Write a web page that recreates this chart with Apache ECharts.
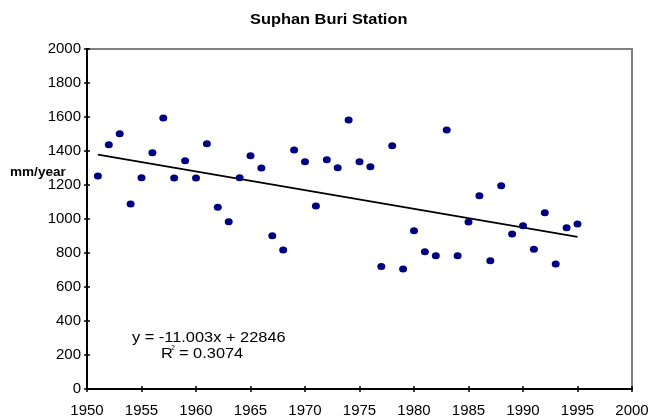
<!DOCTYPE html>
<html>
<head>
<meta charset="utf-8">
<script src="https://cdn.jsdelivr.net/npm/echarts@6/dist/echarts.min.js"></script>
<style>
html,body{margin:0;padding:0;background:#fff;}
#c{width:654px;height:420px;}
</style>
</head>
<body>
<div id="c"></div>
<script>
const years = [1951,1952,1953,1954,1955,1956,1957,1958,1959,1960,1961,1962,1963,1964,1965,1966,1967,1968,1969,1970,1971,1972,1973,1974,1975,1976,1977,1978,1979,1980,1981,1982,1983,1984,1985,1986,1987,1988,1989,1990,1991,1992,1993,1994,1995];
const rainfall = [1253,1437,1502,1088,1243,1390,1594,1241,1343,1241,1443,1069,984,1243,1372,1300,902,818,1406,1337,1076,1349,1302,1582,1337,1308,720,1431,706,931,808,784,1523,784,982,1137,755,1196,912,961,822,1037,735,949,970];
const trendSlope = -11.003;
const trendIntercept = 22846;
const trendYears = [1951, 1995];
const xTicks = {min:1950, max:2000, interval:5};
const yTicks = {min:0, max:2000, interval:200};
const titleText = 'Suphan Buri Station';
const yName = 'mm/year';
const eqText = 'y = -11.003x + 22846';
const r2Text = '0.3074';

const pts = years.map((y,i)=>[y, rainfall[i]]);
const trend = trendYears.map(x=>[x, trendSlope*x + trendIntercept]);
const font = '"Liberation Sans", Arial, sans-serif';
const SX = 1.17;

const chart = echarts.init(document.getElementById('c'), null, {renderer:'canvas'});
chart.setOption({
  animation:false,
  backgroundColor:'#fff',
  grid:{left:87, right:22, top:49, bottom:31, show:true, borderColor:'#808080', borderWidth:2, backgroundColor:'#fff'},
  xAxis:[{
    type:'value', min:xTicks.min, max:xTicks.max, interval:xTicks.interval,
    axisLine:{show:true, onZero:false, lineStyle:{color:'#000', width:2}},
    axisTick:{show:true, length:3, lineStyle:{color:'#000', width:1.5}},
    axisLabel:{color:'#000', fontFamily:font, fontSize:15, margin:14, formatter:v=>String(v)},
    splitLine:{show:false}
  },{
    type:'value', position:'bottom', min:xTicks.min, max:xTicks.max, interval:xTicks.interval,
    axisLine:{show:false}, axisTick:{show:true, inside:true, length:3, lineStyle:{color:'#000', width:1.5}},
    axisLabel:{show:false}, splitLine:{show:false}
  }],
  yAxis:[{
    type:'value', min:yTicks.min, max:yTicks.max, interval:yTicks.interval,
    axisLine:{show:true, onZero:false, lineStyle:{color:'#000', width:2}},
    axisTick:{show:true, length:3, lineStyle:{color:'#000', width:1.5}},
    axisLabel:{color:'#000', fontFamily:font, fontSize:15, margin:6, padding:[4,0,0,0], formatter:v=>String(v)},
    splitLine:{show:false}
  },{
    type:'value', position:'left', min:yTicks.min, max:yTicks.max, interval:yTicks.interval,
    axisLine:{show:false}, axisTick:{show:true, inside:true, length:3, lineStyle:{color:'#000', width:1.5}},
    axisLabel:{show:false}, splitLine:{show:false}
  }],
  graphic:[
    {type:'text', x:250, y:13, scaleX:SX, style:{text:titleText, font:'bold 14px '+font, fill:'#000'}},
    {type:'text', x:10, y:167, scaleX:1.13, style:{text:yName, font:'bold 12px '+font, fill:'#000'}},
    {type:'text', x:132, y:331, scaleX:SX, style:{text:eqText, font:'14px '+font, fill:'#000'}},
    {type:'text', x:161, y:347, scaleX:SX, style:{text:'R', font:'14px '+font, fill:'#000'}},
    {type:'text', x:171, y:345, style:{text:'2', font:'7px '+font, fill:'#000'}},
    {type:'text', x:179, y:347, scaleX:SX, style:{text:'= '+r2Text, font:'14px '+font, fill:'#000'}}
  ],
  series:[
    {type:'scatter', data:pts, symbol:'circle', symbolSize:[8,7],
     itemStyle:{color:'#000080', opacity:1}, z:3},
    {type:'line', data:trend, symbol:'none', lineStyle:{color:'#000', width:1.8}, z:2, silent:true}
  ]
});
</script>
</body>
</html>
